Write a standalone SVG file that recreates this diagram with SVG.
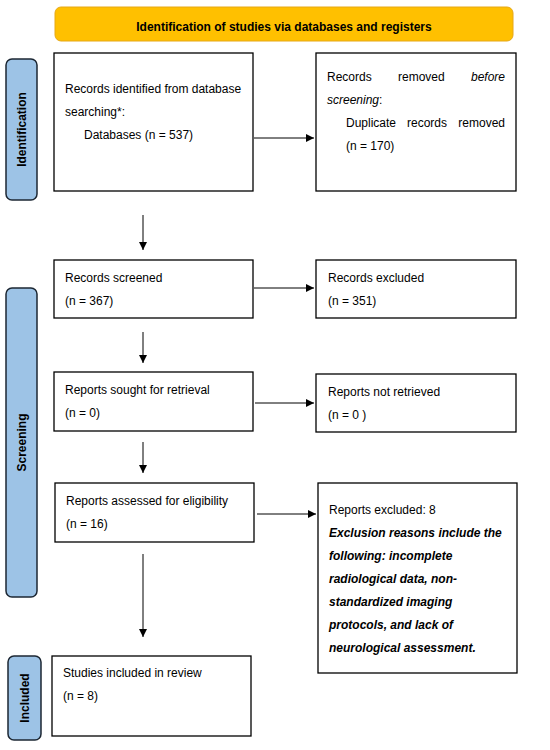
<svg xmlns="http://www.w3.org/2000/svg" width="550" height="750" viewBox="0 0 550 750">
<defs>
<marker id="ah" viewBox="0 0 10 10" refX="10" refY="5" markerWidth="8" markerHeight="8" markerUnits="userSpaceOnUse" orient="auto">
<path d="M0,0 L10,5 L0,10 Z" fill="#000"/>
</marker>
<style>
.box{fill:#fff;stroke:#000;stroke-width:1.3}
.side{fill:#9DC3E6;stroke:#1c2733;stroke-width:1.5}
.hdr{fill:#FFC000;stroke:#E6A817;stroke-width:1}
.t{font-family:"Liberation Sans",Arial,sans-serif;font-size:12px;fill:#000}
.b{font-weight:bold}
.bi{font-weight:bold;font-style:italic}
.i{font-style:italic}
.sl{font-family:"Liberation Sans",Arial,sans-serif;font-size:12px;font-weight:bold;fill:#000;text-anchor:middle}
.c{stroke:#000;stroke-width:1;fill:none;marker-end:url(#ah)}
</style>
</defs>
<rect width="550" height="750" fill="#fff"/>
<g id="header">
<rect class="hdr" x="55" y="7" width="458" height="34" rx="6"/>
<text class="t b" x="284" y="31" text-anchor="middle">Identification of studies via databases and registers</text>
</g>
<g id="side-identification">
<rect class="side" x="6" y="59" width="31" height="141" rx="6"/>
<text class="sl" transform="translate(26,129.5) rotate(-90)">Identification</text>
</g>
<g id="side-screening">
<rect class="side" x="6" y="288" width="31" height="309" rx="6"/>
<text class="sl" transform="translate(26,442.5) rotate(-90)">Screening</text>
</g>
<g id="side-included">
<rect class="side" x="8" y="656" width="33" height="84" rx="6"/>
<text class="sl" transform="translate(29,698) rotate(-90)">Included</text>
</g>
<g id="n-identified">
<rect class="box" x="54" y="53" width="199" height="138"/>
<text class="t" x="65" y="93">Records identified from database</text>
<text class="t" x="65" y="116">searching*:</text>
<text class="t" x="84" y="139">Databases (n = 537)</text>
</g>
<g id="n-removed">
<rect class="box" x="316" y="53" width="200" height="138"/>
<text class="t" x="327" y="81">Records</text>
<text class="t" x="398" y="81">removed</text>
<text class="t i" x="505" y="81" text-anchor="end">before</text>
<text class="t" x="327" y="104"><tspan class="i">screening</tspan>:</text>
<text class="t" x="346" y="127">Duplicate</text>
<text class="t" x="407" y="127">records</text>
<text class="t" x="505" y="127" text-anchor="end">removed</text>
<text class="t" x="346" y="150">(n = 170)</text>
</g>
<g id="n-screened">
<rect class="box" x="54" y="260" width="199" height="58"/>
<text class="t" x="65" y="282">Records screened</text>
<text class="t" x="65" y="305">(n = 367)</text>
</g>
<g id="n-excluded">
<rect class="box" x="316" y="260" width="200" height="58"/>
<text class="t" x="328" y="282">Records excluded</text>
<text class="t" x="328" y="305">(n = 351)</text>
</g>
<g id="n-sought">
<rect class="box" x="54" y="372" width="199" height="59"/>
<text class="t" x="65" y="394">Reports sought for retrieval</text>
<text class="t" x="65" y="417">(n = 0)</text>
</g>
<g id="n-notretrieved">
<rect class="box" x="316" y="374" width="200" height="58"/>
<text class="t" x="328" y="396">Reports not retrieved</text>
<text class="t" x="328" y="419">(n = 0 )</text>
</g>
<g id="n-assessed">
<rect class="box" x="55" y="483" width="199" height="59"/>
<text class="t" x="66" y="505">Reports assessed for eligibility</text>
<text class="t" x="66" y="528">(n = 16)</text>
</g>
<g id="n-reportsexcluded">
<rect class="box" x="318" y="483" width="199" height="190"/>
<text class="t" x="329" y="514">Reports excluded: 8</text>
<text class="t bi" x="329" y="537">Exclusion reasons include the</text>
<text class="t bi" x="329" y="560">following: incomplete</text>
<text class="t bi" x="329" y="583">radiological data, non-</text>
<text class="t bi" x="329" y="606">standardized imaging</text>
<text class="t bi" x="329" y="629">protocols, and lack of</text>
<text class="t bi" x="329" y="652">neurological assessment.</text>
</g>
<g id="n-included">
<rect class="box" x="52" y="656" width="199" height="80"/>
<text class="t" x="63" y="677">Studies included in review</text>
<text class="t" x="63" y="700">(n = 8)</text>
</g>
<g id="connectors">
<path class="c" d="M254,138 H314"/>
<path class="c" d="M143,215 V250"/>
<path class="c" d="M254,288 H314"/>
<path class="c" d="M143,332 V363"/>
<path class="c" d="M255,403 H314"/>
<path class="c" d="M143,442 V473"/>
<path class="c" d="M257,514 H316"/>
<path class="c" d="M143,554 V637"/>
</g>
</svg>
